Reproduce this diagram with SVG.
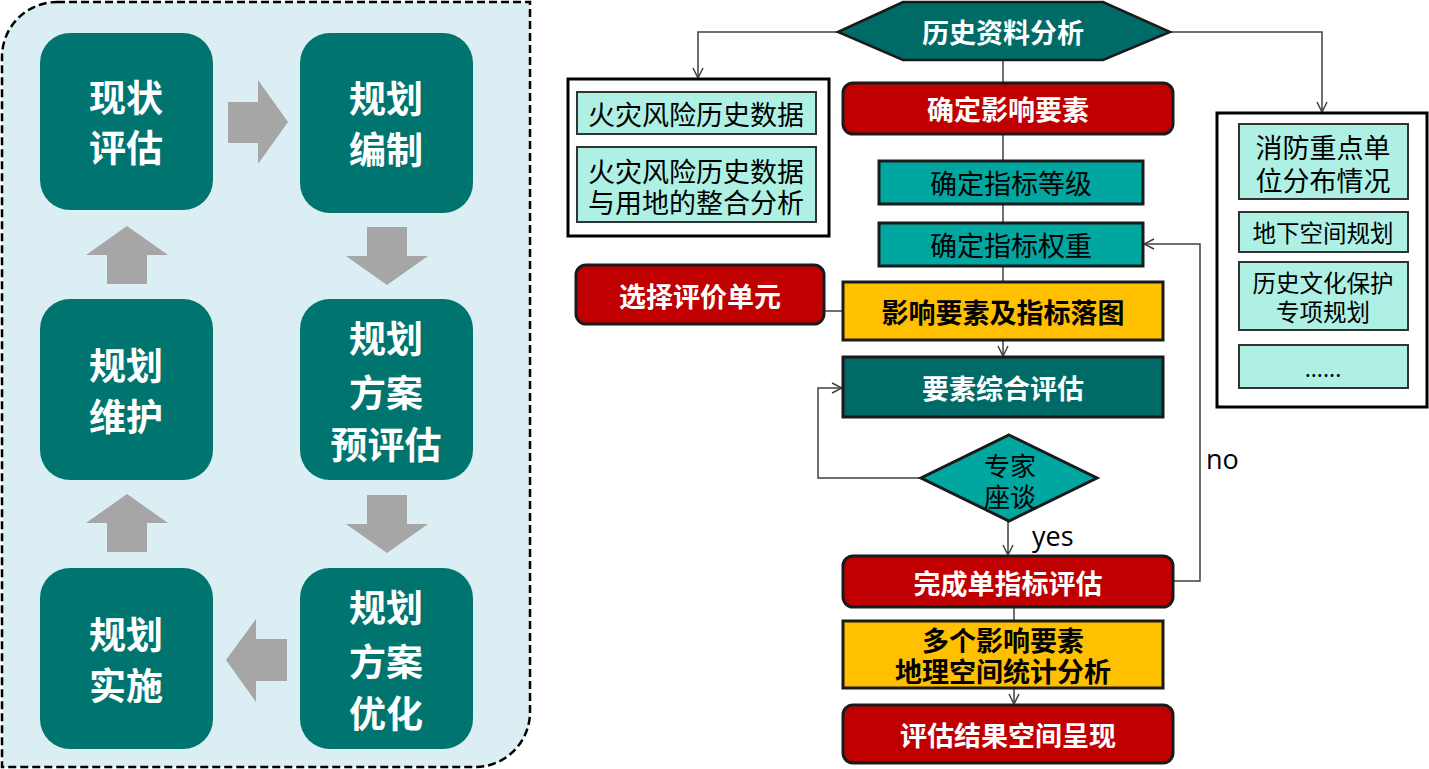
<svg xmlns="http://www.w3.org/2000/svg" width="1429" height="769" viewBox="0 0 1429 769">
<defs>
<style>
.big{font-family:"Noto Sans CJK SC","Noto Sans",sans-serif;font-weight:bold;font-size:37px;fill:#fff;text-anchor:middle;dominant-baseline:central}
.lnode{fill:#007570}
.garrow{fill:#A6A6A6}
.t{font-family:"Noto Sans CJK SC","Noto Sans",sans-serif;font-size:27px;text-anchor:middle;dominant-baseline:central}
.tb{font-weight:bold}
.w{fill:#fff}
.k{fill:#000}
.red{fill:#C00000;stroke:#1a1a1a;stroke-width:3}
.yel{fill:#FFC000;stroke:#1a1a1a;stroke-width:3}
.dteal{fill:#006B66;stroke:#1a1a1a;stroke-width:3}
.mteal{fill:#00A6A0;stroke:#1a1a1a;stroke-width:3}
.aqua{fill:#AFF0E4;stroke:#333;stroke-width:2}
.frame{fill:#fff;stroke:#000;stroke-width:3}
.conn{fill:none;stroke:#404040;stroke-width:1.5}
.lbl{font-family:"Open Sans","Liberation Sans",sans-serif;font-size:27px;fill:#000;dominant-baseline:central}
</style>
<marker id="arr" viewBox="0 0 12 12" refX="11" refY="6" markerWidth="12" markerHeight="12" markerUnits="userSpaceOnUse" orient="auto">
<path d="M1,1 L11,6 L1,11" fill="none" stroke="#404040" stroke-width="1.5"/>
</marker>
</defs>

<!-- Left panel -->
<g id="panel">
<path d="M57 2 H530 V712 A55 55 0 0 1 475 767 H2 V57 A55 55 0 0 1 57 2 Z" fill="#DAEEF3" stroke="#000" stroke-width="2.5" stroke-dasharray="8 4"/>
</g>
<g id="n-xzpg"><rect class="lnode" x="40" y="33" width="173" height="177" rx="30"/><text class="big" x="126" y="96">现状</text><text class="big" x="126" y="146">评估</text></g>
<g id="n-ghbz"><rect class="lnode" x="300" y="33" width="173" height="180" rx="30"/><text class="big" x="386" y="97">规划</text><text class="big" x="386" y="148">编制</text></g>
<g id="n-ghfaypg"><rect class="lnode" x="300" y="299" width="173" height="181" rx="30"/><text class="big" x="386" y="337">规划</text><text class="big" x="386" y="391">方案</text><text class="big" x="386" y="443">预评估</text></g>
<g id="n-ghfayh"><rect class="lnode" x="300" y="568" width="173" height="181" rx="30"/><text class="big" x="386" y="606">规划</text><text class="big" x="386" y="660">方案</text><text class="big" x="386" y="712">优化</text></g>
<g id="n-ghss"><rect class="lnode" x="40" y="568" width="173" height="181" rx="30"/><text class="big" x="126" y="633">规划</text><text class="big" x="126" y="684">实施</text></g>
<g id="n-ghwh"><rect class="lnode" x="40" y="299" width="173" height="181" rx="30"/><text class="big" x="126" y="364">规划</text><text class="big" x="126" y="415">维护</text></g>

<g id="block-arrows">
<polygon class="garrow" points="228,102 258,102 258,80 288,122 258,164 258,143 228,143"/>
<polygon class="garrow" points="367,227 407,227 407,256 428,256 387,285 346,256 367,256"/>
<polygon class="garrow" points="367,495 407,495 407,524 428,524 387,553 346,524 367,524"/>
<polygon class="garrow" points="287,639 256,639 256,619 226,660 256,702 256,681 287,681"/>
<polygon class="garrow" points="107,552 147,552 147,523 168,523 127,494 86,523 107,523"/>
<polygon class="garrow" points="107,284 147,284 147,255 168,255 127,226 86,255 107,255"/>
</g>

<!-- Right flowchart connectors -->
<g id="connectors">
<polyline class="conn" points="838,32 698,32 698,78" marker-end="url(#arr)"/>
<polyline class="conn" points="1170,32 1322,32 1322,112" marker-end="url(#arr)"/>
<line class="conn" x1="1003" y1="60" x2="1003" y2="282"/>
<line class="conn" x1="824" y1="311" x2="843" y2="311"/>
<line class="conn" x1="1003" y1="340" x2="1003" y2="356" marker-end="url(#arr)"/>
<polyline class="conn" points="921,478 818,478 818,388 842,388" marker-end="url(#arr)"/>
<line class="conn" x1="1008" y1="521" x2="1008" y2="555" marker-end="url(#arr)"/>
<polyline class="conn" points="1173,581 1200,581 1200,244 1144,244" marker-end="url(#arr)"/>
<line class="conn" x1="1014" y1="607" x2="1014" y2="620"/>
<line class="conn" x1="1014" y1="688" x2="1014" y2="704" marker-end="url(#arr)"/>
<text class="lbl" x="1032" y="535">yes</text>
<text class="lbl" x="1206" y="458">no</text>
</g>

<g id="n-lszlfx">
<polygon points="838,32 903,2 1103,2 1170,32 1103,60 903,60" fill="#006B66" stroke="#1a1a1a" stroke-width="2.5"/>
<text class="t tb w" x="1003" y="31">历史资料分析</text>
</g>

<g id="n-leftgroup">
<rect class="frame" x="568" y="79" width="261" height="157"/>
<rect class="aqua" x="577" y="92" width="239" height="42"/>
<text class="t k" x="696" y="113">火灾风险历史数据</text>
<rect class="aqua" x="577" y="147" width="239" height="75"/>
<text class="t k" x="696" y="170">火灾风险历史数据</text>
<text class="t k" x="696" y="201">与用地的整合分析</text>
</g>

<g id="n-rightgroup">
<rect class="frame" x="1217" y="113" width="210" height="294"/>
<rect class="aqua" x="1239" y="124" width="169" height="75"/>
<text class="t k" x="1323" y="146">消防重点单</text>
<text class="t k" x="1323" y="179">位分布情况</text>
<rect class="aqua" x="1239" y="212" width="169" height="40"/>
<text class="t k" style="font-size:23.5px" x="1323" y="232">地下空间规划</text>
<rect class="aqua" x="1239" y="262" width="169" height="68"/>
<text class="t k" style="font-size:23.5px" x="1323" y="282">历史文化保护</text>
<text class="t k" style="font-size:23.5px" x="1323" y="311">专项规划</text>
<rect class="aqua" x="1239" y="345" width="169" height="43"/>
<text class="t k" style="font-size:22px" x="1323" y="367">......</text>
</g>

<g id="n-qdyxys"><rect class="red" x="843" y="83" width="330" height="51" rx="10"/><text class="t tb w" x="1008" y="108">确定影响要素</text></g>
<g id="n-qdzbdj"><rect class="mteal" x="879" y="161" width="264" height="43"/><text class="t k" x="1011" y="182">确定指标等级</text></g>
<g id="n-qdzbqz"><rect class="mteal" x="879" y="223" width="264" height="43"/><text class="t k" x="1011" y="244">确定指标权重</text></g>
<g id="n-xzpjdy"><rect class="red" x="576" y="265" width="248" height="59" rx="10"/><text class="t tb w" x="700" y="295">选择评价单元</text></g>
<g id="n-yxysluotu"><rect class="yel" x="843" y="282" width="320" height="58"/><text class="t tb k" x="1003" y="311">影响要素及指标落图</text></g>
<g id="n-yszhpg"><rect class="dteal" x="843" y="357" width="320" height="60"/><text class="t tb w" x="1003" y="387">要素综合评估</text></g>
<g id="n-zjzt"><polygon class="mteal" points="1009,435 1097,478 1009,521 921,478"/><text class="t k" style="font-size:26px" x="1010" y="464">专家</text><text class="t k" style="font-size:26px" x="1010" y="495">座谈</text></g>
<g id="n-wcdzbpg"><rect class="red" x="843" y="556" width="330" height="51" rx="10"/><text class="t tb w" x="1008" y="582">完成单指标评估</text></g>
<g id="n-dgyxys"><rect class="yel" x="843" y="621" width="320" height="67"/><text class="t tb k" x="1003" y="639">多个影响要素</text><text class="t tb k" x="1003" y="670">地理空间统计分析</text></g>
<g id="n-pgjgkjcx"><rect class="red" x="843" y="705" width="330" height="58" rx="10"/><text class="t tb w" x="1008" y="734">评估结果空间呈现</text></g>
</svg>
